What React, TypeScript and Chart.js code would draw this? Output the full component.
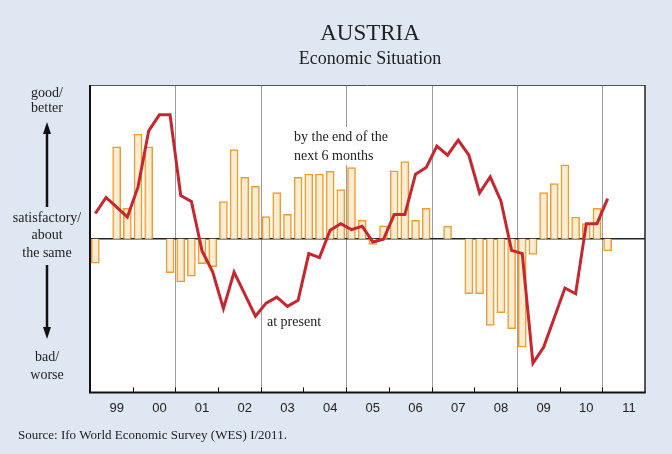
import React, { useEffect, useRef } from "react";
import { Chart, registerables } from "chart.js";

Chart.register(...registerables);

const years = ["1999", "2000", "2001", "2002", "2003", "2004", "2005", "2006", "2007", "2008", "2009", "2010", "2011"];
const yearLabels = ["99", "00", "01", "02", "03", "04", "05", "06", "07", "08", "09", "10", "11"];
const quarterNames = ["Q1", "Q2", "Q3", "Q4"];

// Economic situation at present (line)
const presentValues = [
  16.4, 26.8, 20.5, 14.1, 33.7, 70.2, 80.6, 80.6, 28.1, 24.2, -8.0, -21.7,
  -45.5, -21.7, -36.0, -50.4, -41.9, -38.0, -44.0, -40.1, -9.7, -12.3, 5.5, 9.8,
  5.9, 8.1, -2.1, -0.4, 15.7, 15.7, 42.0, 46.3, 60.2, 54.3, 64.1, 54.3,
  29.8, 40.2, 24.6, -7.6, -9.7, -81.0, -70.6, -51.4, -32.1, -35.8, 9.8, 9.8,
  26.1,
];

// Expectations by the end of the next 6 months (bars)
const expectationValues = [
  -16.0, null, 59.7, 19.8, 68.0, 59.7, null, -22.1, -28.2, -24.3, -16.2, -18.2,
  24.2, 58.0, 40.0, 34.0, 14.4, 30.0, 15.9, 40.0, 42.1, 42.1, 43.9, 32.0,
  46.3, 12.0, -3.8, 8.3, 44.1, 50.2, 12.0, 19.8, null, 8.1, null, -35.8,
  -35.8, -56.4, -48.1, -58.6, -70.6, -10.2, 30.0, 35.9, 48.0, 14.1, 9.8, 19.8,
  -8.0,
];

const yMin = -100;
const yMax = 100;

const SERIF = '"Liberation Serif", "Times New Roman", serif';
const SANS = '"Liberation Sans", Arial, sans-serif';

const quarterLabels: string[] = [];
years.forEach((y) => quarterNames.forEach((q) => quarterLabels.push(y + " " + q)));

function pad(arr: (number | null)[]) {
  const out = arr.slice();
  while (out.length < quarterLabels.length) out.push(null);
  return out;
}

const decoPlugin = {
  id: "deco",
  beforeDraw(chart: any) {
    const { ctx, chartArea: a } = chart;
    ctx.save();
    ctx.fillStyle = "#dfe7f3";
    ctx.fillRect(0, 0, chart.width, chart.height);
    ctx.fillStyle = "#ffffff";
    ctx.fillRect(a.left, a.top, a.right - a.left, a.bottom - a.top);
    ctx.restore();
  },
  beforeDatasetsDraw(chart: any) {
    const { ctx, chartArea: a, scales } = chart;
    const xs = scales.x;
    const ys = scales.y;
    const w = (a.right - a.left) / quarterLabels.length;
    ctx.save();
    // grey vertical separators every two years
    ctx.strokeStyle = "#9c9c9c";
    ctx.lineWidth = 1;
    for (let k = 8; k < quarterLabels.length; k += 8) {
      const x = Math.round(xs.getPixelForValue(k) - w / 2) + 0.5;
      ctx.beginPath();
      ctx.moveTo(x, a.top);
      ctx.lineTo(x, a.bottom);
      ctx.stroke();
    }
    // zero line
    const y0 = ys.getPixelForValue(0);
    ctx.strokeStyle = "#222";
    ctx.lineWidth = 1.5;
    ctx.beginPath();
    ctx.moveTo(a.left, y0);
    ctx.lineTo(a.right, y0);
    ctx.stroke();
    // annotation: by the end of the next 6 months
    ctx.font = "14px " + SERIF;
    ctx.textBaseline = "middle";
    ctx.textAlign = "left";
    const t1 = "by the end of the";
    const t2 = "next 6 months";
    const w1 = ctx.measureText(t1).width;
    ctx.fillStyle = "#ffffff";
    ctx.fillRect(292, 127, w1 + 4, 38);
    ctx.fillStyle = "#222";
    ctx.fillText(t1, 294, 137);
    ctx.fillText(t2, 294, 156);
    ctx.fillText("at present", 267, 322);
    ctx.restore();
  },
  afterDraw(chart: any) {
    const { ctx, chartArea: a, scales } = chart;
    const xs = scales.x;
    const w = (a.right - a.left) / quarterLabels.length;
    ctx.save();
    // inward year ticks
    ctx.strokeStyle = "#111";
    ctx.lineWidth = 1;
    for (let k = 4; k < quarterLabels.length; k += 4) {
      const x = Math.round(xs.getPixelForValue(k) - w / 2) + 0.5;
      ctx.beginPath();
      ctx.moveTo(x, a.bottom - 5);
      ctx.lineTo(x, a.bottom);
      ctx.stroke();
    }
    // frame
    ctx.strokeStyle = "#555";
    ctx.lineWidth = 1;
    ctx.beginPath();
    ctx.moveTo(a.left, a.top + 0.5);
    ctx.lineTo(a.right, a.top + 0.5);
    ctx.stroke();
    ctx.strokeStyle = "#222";
    ctx.lineWidth = 1.5;
    ctx.beginPath();
    ctx.moveTo(a.right, a.top);
    ctx.lineTo(a.right, a.bottom);
    ctx.stroke();
    ctx.strokeStyle = "#111";
    ctx.lineWidth = 2;
    ctx.beginPath();
    ctx.moveTo(a.left, a.top);
    ctx.lineTo(a.left, a.bottom);
    ctx.lineTo(a.right + 0.75, a.bottom);
    ctx.stroke();

    // titles
    ctx.fillStyle = "#222";
    ctx.textAlign = "center";
    ctx.textBaseline = "middle";
    ctx.font = "23px " + SERIF;
    ctx.fillText("AUSTRIA", 370, 34);
    ctx.font = "18px " + SERIF;
    ctx.fillText("Economic Situation", 370, 59);

    // left labels
    ctx.font = "14px " + SERIF;
    const cx = 47;
    ctx.fillText("good/", cx, 93);
    ctx.fillText("better", cx, 108);
    ctx.fillText("satisfactory/", cx, 218);
    ctx.fillText("about", cx, 235);
    ctx.fillText("the same", cx, 253);
    ctx.fillText("bad/", cx, 357);
    ctx.fillText("worse", cx, 375);

    // arrows
    ctx.strokeStyle = "#111";
    ctx.fillStyle = "#111";
    ctx.lineWidth = 2.5;
    ctx.beginPath();
    ctx.moveTo(cx, 207);
    ctx.lineTo(cx, 131);
    ctx.stroke();
    ctx.beginPath();
    ctx.moveTo(cx, 122);
    ctx.lineTo(cx - 4, 134);
    ctx.lineTo(cx + 4, 134);
    ctx.closePath();
    ctx.fill();
    ctx.beginPath();
    ctx.moveTo(cx, 265);
    ctx.lineTo(cx, 330);
    ctx.stroke();
    ctx.beginPath();
    ctx.moveTo(cx, 339);
    ctx.lineTo(cx - 4, 327);
    ctx.lineTo(cx + 4, 327);
    ctx.closePath();
    ctx.fill();

    // source
    ctx.fillStyle = "#222";
    ctx.textAlign = "left";
    ctx.font = "13px " + SERIF;
    ctx.fillText("Source: Ifo World Economic Survey (WES) I/2011.", 18, 436);
    ctx.restore();
  },
};

export default function App() {
  const canvasRef = useRef<HTMLCanvasElement | null>(null);

  useEffect(() => {
    if (!canvasRef.current) return;
    const chart = new Chart(canvasRef.current, {
      type: "bar",
      data: {
        labels: quarterLabels,
        datasets: [
          {
            type: "line",
            label: "at present",
            data: pad(presentValues),
            borderColor: "#c8262f",
            borderWidth: 3,
            pointRadius: 0,
            tension: 0,
            fill: false,
            order: 0,
          } as any,
          {
            type: "bar",
            label: "by the end of the next 6 months",
            data: pad(expectationValues),
            backgroundColor: "#f8edd3",
            borderColor: "#f29a2e",
            borderWidth: 1.5,
            barThickness: 8,
            order: 1,
          },
        ],
      },
      options: {
        responsive: false,
        animation: false,
        devicePixelRatio: 1,
        layout: { padding: { left: 90, right: 27, top: 85, bottom: 30 } },
        plugins: {
          legend: { display: false },
          tooltip: { enabled: false },
          title: { display: false },
        },
        scales: {
          x: {
            type: "category",
            offset: true,
            grid: { display: false, drawTicks: false },
            border: { display: false },
            ticks: {
              autoSkip: false,
              maxRotation: 0,
              minRotation: 0,
              padding: 8,
              color: "#222",
              font: { family: SANS, size: 13 },
              callback: (_v: any, index: number) =>
                index % 4 === 2 ? yearLabels[Math.floor(index / 4)] : "",
            },
          },
          y: {
            display: false,
            min: yMin,
            max: yMax,
          },
        },
      },
      plugins: [decoPlugin],
    });
    return () => chart.destroy();
  }, []);

  return (
    <div style={{ position: "absolute", left: 0, top: 0, width: 672, height: 454 }}>
      <canvas ref={canvasRef} width={672} height={454} style={{ display: "block", width: 672, height: 454 }} />
    </div>
  );
}
